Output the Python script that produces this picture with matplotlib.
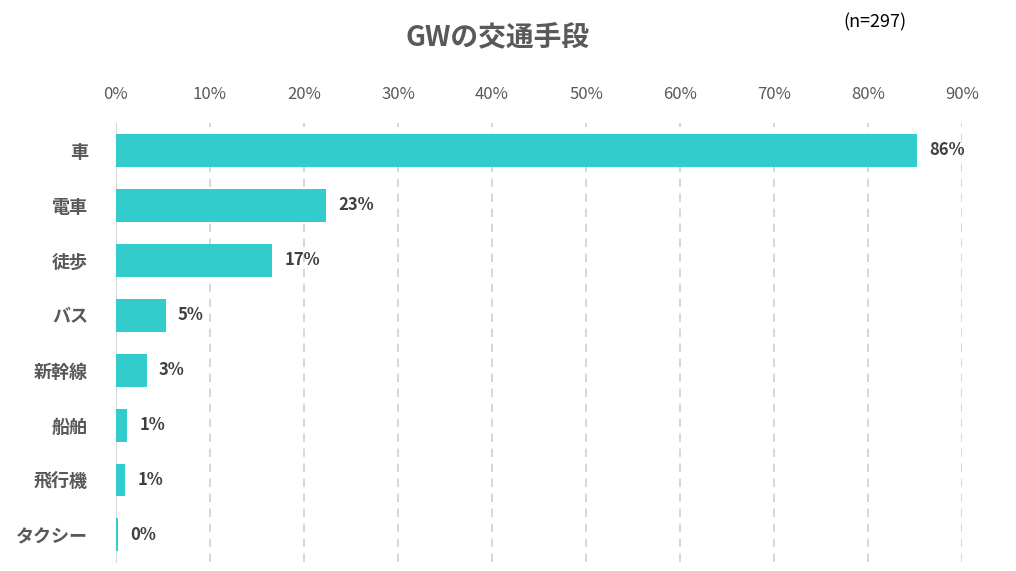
import matplotlib
matplotlib.use("Agg")
import matplotlib.pyplot as plt

plt.rcParams["font.family"] = ["Noto Sans CJK JP", "DejaVu Sans"]

categories = ["車", "電車", "徒歩", "バス", "新幹線", "船舶", "飛行機", "タクシー"]
values = [85.2, 22.4, 16.6, 5.3, 3.3, 1.2, 1.0, 0.2]
labels = ["86%", "23%", "17%", "5%", "3%", "1%", "1%", "0%"]
ticks = list(range(0, 100, 10))

TEXT = "#595959"

fig = plt.figure(figsize=(10.16, 5.71), dpi=100)
ax = fig.add_axes([0.114, 0.015, 0.833, 0.77])
y = list(range(len(categories)))
ax.barh(y, values, height=0.6, color="#33CCCC", zorder=3)
for yi, v, lab in zip(y, values, labels):
    ax.text(v + 1.3, yi, lab, va="center", ha="left", fontsize=12,
            fontweight="bold", color="#404040")
ax.set_ylim(len(categories) - 0.5, -0.5)
ax.set_xlim(0, 90)
ax.set_yticks(y)
ax.set_yticklabels(categories, fontsize=13, color=TEXT, fontweight="bold")
ax.set_xticks(ticks)
ax.set_xticklabels([f"{t}%" for t in ticks], fontsize=12, color=TEXT)
ax.xaxis.tick_top()
ax.tick_params(length=0, pad=14)
ax.tick_params(axis="y", pad=20)
ax.grid(axis="x", color="#D0D0D0", linestyle=(0, (5, 4)), linewidth=1.2, zorder=0)
for s in ["top", "right", "bottom"]:
    ax.spines[s].set_visible(False)
ax.spines["left"].set_color("#D9D9D9")

fig.text(0.49, 0.935, "GWの交通手段", ha="center", va="center",
         fontsize=20, fontweight="bold", color=TEXT)
fig.text(0.83, 0.96, "(n=297)", ha="left", va="center", fontsize=13, color="black")

fig.savefig("out.png", dpi=100)
